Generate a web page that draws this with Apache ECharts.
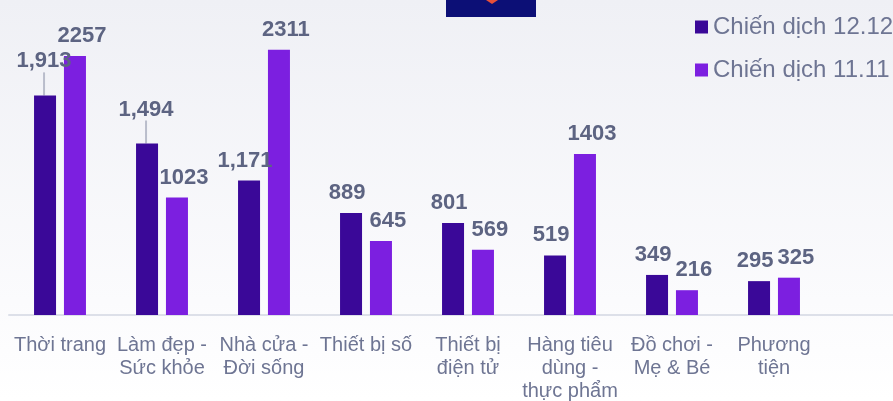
<!DOCTYPE html>
<html>
<head>
<meta charset="utf-8">
<script src="https://cdn.jsdelivr.net/npm/echarts@6/dist/echarts.min.js"></script>
<style>
  html, body { margin: 0; padding: 0; }
  #chart { width: 893px; height: 401px; }
</style>
</head>
<body>
<div id="chart"></div>
<script>
// data
const categories = ['Thời trang', 'Làm đẹp - Sức khỏe', 'Nhà cửa - Đời sống', 'Thiết bị số',
  'Thiết bị điện tử', 'Hàng tiêu dùng - thực phẩm', 'Đồ chơi - Mẹ & Bé', 'Phương tiện']
const seriesNames = ['Chiến dịch 12.12', 'Chiến dịch 11.11']
const campaign1212 = [1913, 1494, 1171, 889, 801, 519, 349, 295]
const campaign1111 = [2257, 1023, 2311, 645, 569, 1403, 216, 325]

const DARK = '#3a0898'
const PURPLE = '#7c1fe0'
const TEXT = '#5d6482'
const AXIS_TEXT = '#6e7593'
const FONT = 'Liberation Sans, Arial, sans-serif'

// labels pushed up with a guide line (they sit over the neighbouring label)
const raisedLabels = ['Thời trang', 'Làm đẹp - Sức khỏe']

// greedy word wrap for the category names, measured with the real font
const measureCtx = document.createElement('canvas').getContext('2d')
function wrapLabel(text, maxWidth, font) {
  measureCtx.font = font
  const words = text.split(' ')
  const lines = []
  let line = ''
  words.forEach(w => {
    const test = line ? line + ' ' + w : w
    if (line && measureCtx.measureText(test).width > maxWidth) {
      lines.push(line)
      line = w
    } else {
      line = test
    }
  })
  if (line) lines.push(line)
  return lines.join('\n')
}

const chart = echarts.init(document.getElementById('chart'))

const valueLabel = {
  show: true,
  position: 'top',
  distance: 9,
  fontFamily: FONT,
  fontSize: 22,
  fontWeight: 'bold',
  color: TEXT
}

chart.setOption({
  backgroundColor: new echarts.graphic.LinearGradient(0, 0, 0, 1, [
    { offset: 0, color: '#eff0f5' },
    { offset: 0.75, color: '#fbfbfd' },
    { offset: 1, color: '#ffffff' }
  ]),
  animation: false,
  grid: {
    left: 9,
    right: 68,
    top: 28,
    bottom: 86,
    outerBoundsMode: 'none'
  },
  legend: {
    orient: 'vertical',
    left: 695,
    top: 15,
    padding: 0,
    itemWidth: 13,
    itemHeight: 13,
    itemGap: 19,
    icon: 'rect',
    data: seriesNames,
    textStyle: {
      fontFamily: FONT,
      fontSize: 24,
      color: AXIS_TEXT
    }
  },
  xAxis: {
    type: 'category',
    data: categories,
    axisTick: { show: false },
    axisLine: { lineStyle: { color: '#dde0e9', width: 2 } },
    axisLabel: {
      interval: 0,
      margin: 19,
      lineHeight: 23,
      fontFamily: FONT,
      fontSize: 20,
      color: AXIS_TEXT,
      hideOverlap: false,
      formatter: v => wrapLabel(v, 100, '20px ' + FONT)
    }
  },
  yAxis: {
    type: 'value',
    min: 0,
    max: 2500,
    show: false,
    splitLine: { show: false }
  },
  // 12.12 labels lean left, 11.11 labels lean right; two are lifted
  labelLayout: function (params) {
    const first = params.seriesIndex === 0
    const lifted = first && raisedLabels.indexOf(categories[params.dataIndex]) >= 0
    if (lifted) return { dx: -1, dy: -14 }
    return { dx: first ? -4 : 7 }
  },
  series: [
    {
      name: seriesNames[0],
      type: 'bar',
      barWidth: 22,
      barGap: '36%',
      itemStyle: { color: DARK },
      label: Object.assign({}, valueLabel, {
        formatter: p => p.value.toLocaleString('en-US')
      }),
      labelLine: { show: false, lineStyle: { color: '#b9bdcb', width: 2 } },
      data: campaign1212.map((v, i) => raisedLabels.indexOf(categories[i]) >= 0
        ? { value: v, labelLine: { show: true } }
        : v)
    },
    {
      name: seriesNames[1],
      type: 'bar',
      barWidth: 22,
      itemStyle: { color: PURPLE },
      label: valueLabel,
      data: campaign1111
    }
  ],
  graphic: [
    // axis line runs on to the right edge
    {
      type: 'line',
      shape: { x1: 825, y1: 315, x2: 893, y2: 315 },
      style: { stroke: '#dde0e9', lineWidth: 2 },
      silent: true
    },
    // cut-off logo at the top
    {
      type: 'rect',
      shape: { x: 446, y: 0, width: 90, height: 17 },
      style: { fill: '#0c0f76' },
      silent: true
    },
    {
      type: 'polygon',
      shape: { points: [[486, 0], [498, 0], [492, 4]] },
      style: { fill: '#e8503a' },
      silent: true
    }
  ]
})
</script>
</body>
</html>
